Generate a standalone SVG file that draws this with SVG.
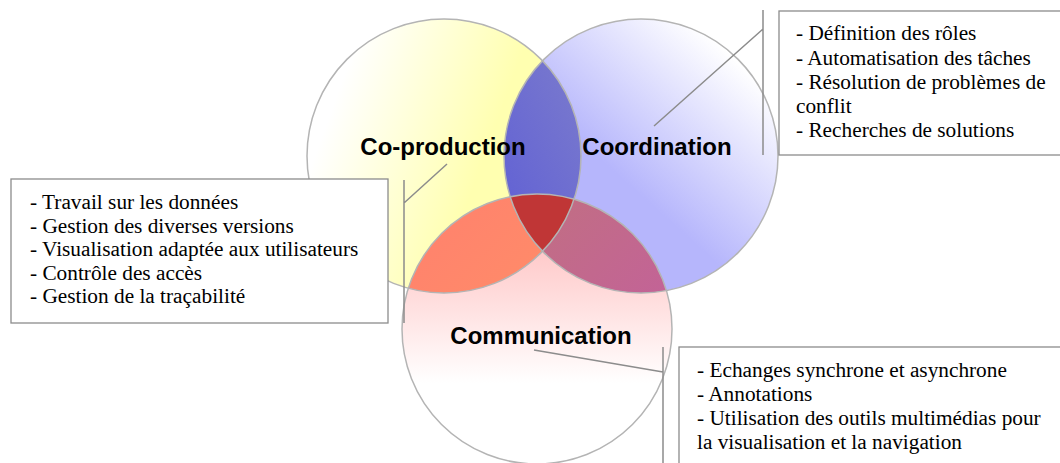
<svg xmlns="http://www.w3.org/2000/svg" width="1060" height="463" viewBox="0 0 1060 463">
<style>
.ring{fill:none;stroke:#b4b4b4;stroke-width:1.5}
.box{fill:#fff;stroke:#8c8c8c;stroke-width:1.3}
.lead{fill:none;stroke:#8c8c8c;stroke-width:1.5}
.lbl{font-family:"Liberation Sans",Arial,sans-serif;font-weight:bold;font-size:24px;fill:#000;text-anchor:middle}
.txt{font-family:"Liberation Serif","Times New Roman",serif;font-size:21.3px;fill:#000}
</style>
<defs>
<linearGradient id="gY" x1="0.1" y1="0.3" x2="0.65" y2="0.5">
<stop offset="0" stop-color="#ffffff"/><stop offset="1" stop-color="#ffffb0"/>
</linearGradient>
<linearGradient id="gB" x1="0.85" y1="0.15" x2="0.45" y2="0.6">
<stop offset="0" stop-color="#ffffff"/><stop offset="1" stop-color="#b6b6fc"/>
</linearGradient>
<linearGradient id="gP" x1="0" y1="0" x2="0" y2="1">
<stop offset="0.05" stop-color="#ffb8b8"/><stop offset="0.7" stop-color="#ffffff"/>
</linearGradient>
<linearGradient id="gBY" x1="0" y1="0.7" x2="1" y2="0.2">
<stop offset="0" stop-color="#6262d4"/><stop offset="1" stop-color="#9a9ac4"/>
</linearGradient>
<linearGradient id="gBP" x1="0" y1="0" x2="1" y2="1">
<stop offset="0" stop-color="#c07676"/><stop offset="1" stop-color="#c45aa6"/>
</linearGradient>
<linearGradient id="gYP" x1="0" y1="0" x2="1" y2="1">
<stop offset="0" stop-color="#ff806e"/><stop offset="1" stop-color="#ff9a62"/>
</linearGradient>
<clipPath id="cY"><circle cx="444" cy="156" r="137"/></clipPath>
<clipPath id="cB"><circle cx="641" cy="156" r="137"/></clipPath>
<clipPath id="cP"><circle cx="537" cy="329" r="135"/></clipPath>
</defs>
<g id="circles">
<g id="coproduction-circle"><circle cx="444" cy="156" r="137" fill="url(#gY)"/></g>
<g id="coordination-circle"><circle cx="641" cy="156" r="137" fill="url(#gB)"/></g>
<g id="communication-circle"><circle cx="537" cy="329" r="135" fill="url(#gP)"/></g>
<g clip-path="url(#cY)"><circle cx="641" cy="156" r="137" fill="url(#gBY)"/></g>
<g clip-path="url(#cY)"><circle cx="537" cy="329" r="135" fill="url(#gYP)"/></g>
<g clip-path="url(#cB)"><circle cx="537" cy="329" r="135" fill="url(#gBP)"/></g>
<g clip-path="url(#cY)"><g clip-path="url(#cB)"><circle cx="537" cy="329" r="135" fill="#c03636"/></g></g>
<circle class="ring" cx="444" cy="156" r="137"/>
<circle class="ring" cx="641" cy="156" r="137"/>
<circle class="ring" cx="537" cy="329" r="135"/>
<text class="lbl" x="443" y="155">Co-production</text>
<text class="lbl" x="657" y="155">Coordination</text>
<text class="lbl" x="541" y="344">Communication</text>
</g>
<g id="connectors">
<path class="lead" d="M404 180V323M404 203L447 164"/>
<path class="lead" d="M763 10V155M763 29L654 126"/>
<path class="lead" d="M663 347V463M663 372L534 350"/>
</g>
<g id="box-coproduction">
<rect class="box" x="11" y="179" width="377" height="144"/>
<text class="txt" x="30" y="209">- Travail sur les données</text>
<text class="txt" x="30" y="232.5">- Gestion des diverses versions</text>
<text class="txt" x="30" y="256">- Visualisation adaptée aux utilisateurs</text>
<text class="txt" x="30" y="279.5">- Contrôle des accès</text>
<text class="txt" x="30" y="303">- Gestion de la traçabilité</text>
</g>
<g id="box-coordination">
<rect class="box" x="779" y="11" width="290" height="144"/>
<text class="txt" x="796" y="40">- Définition des rôles</text>
<text class="txt" x="796" y="64.5">- Automatisation des tâches</text>
<text class="txt" x="796" y="89">- Résolution de problèmes de</text>
<text class="txt" x="796" y="113">conflit</text>
<text class="txt" x="796" y="137">- Recherches de solutions</text>
</g>
<g id="box-communication">
<rect class="box" x="679" y="347" width="390" height="130"/>
<text class="txt" x="697" y="377">- Echanges synchrone et asynchrone</text>
<text class="txt" x="697" y="401">- Annotations</text>
<text class="txt" x="697" y="425">- Utilisation des outils multimédias pour</text>
<text class="txt" x="697" y="449">la visualisation et la navigation</text>
</g>
</svg>
